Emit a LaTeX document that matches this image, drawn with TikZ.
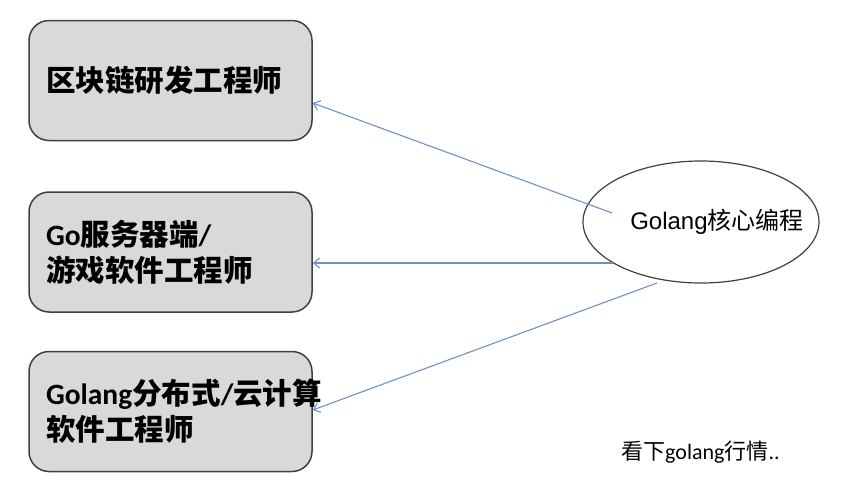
\documentclass[tikz,border=0pt]{standalone}
\usepackage{fontspec}
\setmainfont{Noto Sans CJK SC}
\newfontfamily\latfont{Carlito}
\newfontfamily\arialfont{Liberation Sans}
\usetikzlibrary{shapes.geometric,arrows.meta,calc}

\newlength{\du}
\setlength{\du}{1pt}

\tikzset{
  jobbox/.style={draw=boxline, fill=boxfill, line width=1.5\du, rounded corners=20\du,
    minimum width=283\du, minimum height=120\du, inner xsep=17\du, inner ysep=0pt,
    text width=249\du, align=left, font=\fontsize{29.5}{36}\selectfont\bfseries},
  coreellipse/.style={draw=boxline, ellipse, line width=1.2\du,
    minimum width=236\du, minimum height=122\du, inner sep=0pt},
  jobarrow/.style={draw=arrowline, line width=1.1\du, -{Straight Barb[length=6pt,width=10pt]}}
}

\begin{document}
\begin{tikzpicture}
\pgftransformxscale{1.000000}
\pgftransformyscale{-1.000000}
\definecolor{boxline}{rgb}{0.250000, 0.250000, 0.250000}
\definecolor{boxfill}{rgb}{0.850000, 0.850000, 0.850000}
\definecolor{arrowline}{rgb}{0.440000, 0.560000, 0.780000}
\useasboundingbox (0\du,0\du) rectangle (841\du,496\du);
% job boxes
\node[jobbox] (qkl) at (170.5\du,80.5\du){区块链研发工程师};
\node[jobbox] (fwq) at (170.5\du,252\du){{\latfont Go}服务器端{\latfont /}\\游戏软件工程师};
\node[jobbox] (fbs) at (170.5\du,411.5\du){{\latfont Golang}分布式{\latfont /}云计算\\软件工程师};
% core
\node[coreellipse, label={[xshift=16\du, font=\fontsize{24}{28}\selectfont]center:{\arialfont Golang}核心编程}] (core) at (701\du,222\du){};
\coordinate (s1) at ($(core.center)+(-89\du,-9\du)$);
\coordinate (s2) at ($(core.center)+(-88\du,41\du)$);
\coordinate (s3) at ($(core.center)+(-44\du,61\du)$);
\draw[jobarrow] (s1) -- ($(qkl.east)+(0\du,22.5\du)$);
\draw[jobarrow] (s2) -- ($(fwq.east)+(0\du,11\du)$);
\draw[jobarrow] (s3) -- ($(fbs.east)+(0\du,-1.5\du)$);
% note
\node[anchor=west, inner sep=0pt, font=\fontsize{22}{26}\selectfont] (note) at (621\du,452\du){看下{\latfont golang}行情{\latfont ..}};
\end{tikzpicture}
\end{document}
